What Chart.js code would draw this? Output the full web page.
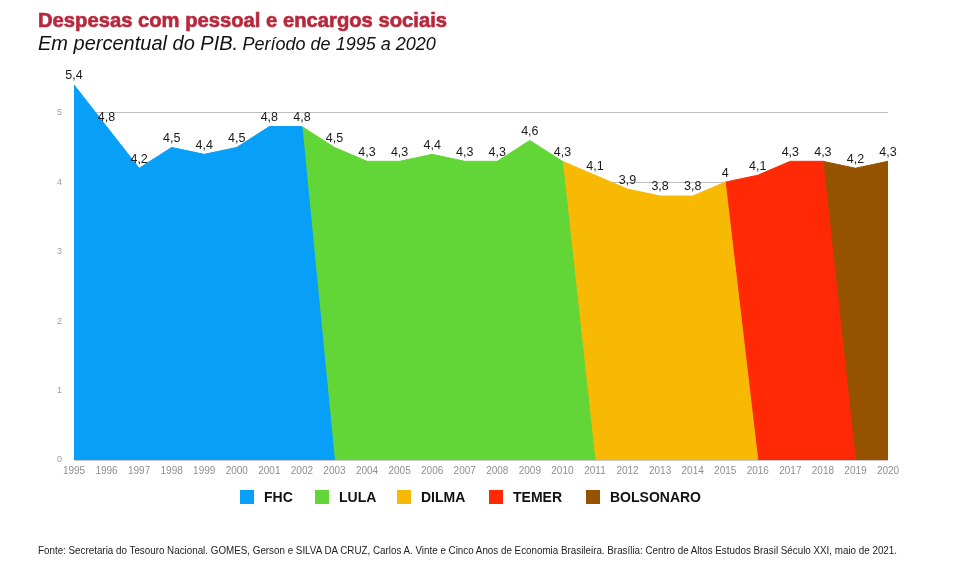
<!DOCTYPE html>
<html>
<head>
<meta charset="utf-8">
<script src="https://cdn.jsdelivr.net/npm/chart.js@4/dist/chart.umd.min.js"></script>
<style>
  html, body { margin:0; padding:0; background:#fff; }
  body { width:953px; height:570px; position:relative; overflow:hidden; font-family:"Liberation Sans", Arial, sans-serif; }
  #c { position:absolute; left:0; top:0; }
  .fit { position:absolute; white-space:nowrap; transform-origin:0 0; }
  #title { left:38px; top:9px; font-size:20px; font-weight:700; color:#b8283c; -webkit-text-stroke:0.6px #b8283c; }
  #sub { left:38px; top:32px; font-style:italic; color:#111; }
  #sub .a { font-size:20px; }
  #sub .b { font-size:18px; }
  #foot { left:38px; top:545px; font-size:10px; color:#222; font-family:"Liberation Sans Narrow","Liberation Sans",Arial,sans-serif; }
  .lg-box { position:absolute; top:490px; width:14px; height:14px; }
  .lg-txt { position:absolute; top:489px; font-size:14px; font-weight:700; color:#111; line-height:16px; }
</style>
</head>
<body>
<canvas id="c" width="953" height="570"></canvas>
<div id="title" class="fit" data-w="409">Despesas com pessoal e encargos sociais</div>
<div id="sub" class="fit"><span class="a">Em percentual do PIB.</span> <span class="b">Período de 1995 a 2020</span></div>
<div id="foot" class="fit" data-w="859">Fonte: Secretaria do Tesouro Nacional. GOMES, Gerson e SILVA DA CRUZ, Carlos A. Vinte e Cinco Anos de Economia Brasileira. Brasília: Centro de Altos Estudos Brasil Século XXI, maio de 2021.</div>
<div id="legend"></div>
<script>
// ---- data ----
const years = ['1995','1996','1997','1998','1999','2000','2001','2002','2003','2004','2005','2006','2007','2008','2009','2010','2011','2012','2013','2014','2015','2016','2017','2018','2019','2020'];
const values = [5.4,4.8,4.2,4.5,4.4,4.5,4.8,4.8,4.5,4.3,4.3,4.4,4.3,4.3,4.6,4.3,4.1,3.9,3.8,3.8,4.0,4.1,4.3,4.3,4.2,4.3];
const presidents = ['FHC','LULA','DILMA','TEMER','BOLSONARO'];
const termStart = [1995,2003,2011,2016,2019];
const termEnd = [2002,2010,2015,2018,2020];
const colors = ['#079ff7','#62d637','#f8b905','#ff2a05','#955300'];
const yTicks = [0,1,2,3,4,5];

// fit text widths
document.querySelectorAll('.fit[data-w]').forEach(el => {
  const w = el.getBoundingClientRect().width;
  el.style.transform = 'scaleX(' + (parseFloat(el.dataset.w) / w) + ')';
});

// legend
const lgBoxX = [240,315,397,489,586];
const lg = document.getElementById('legend');
presidents.forEach((p, k) => {
  const b = document.createElement('div');
  b.className = 'lg-box'; b.style.left = lgBoxX[k] + 'px'; b.style.background = colors[k];
  const t = document.createElement('div');
  t.className = 'lg-txt'; t.style.left = (lgBoxX[k] + 24) + 'px'; t.textContent = p;
  lg.appendChild(b); lg.appendChild(t);
});

// build series: each term includes the previous year's point and drops to 0 the year after
const datasets = presidents.map((p, k) => {
  const data = years.map((y, i) => {
    const yr = +y;
    const from = termStart[k] > +years[0] ? termStart[k] - 1 : termStart[k];
    if (yr >= from && yr <= termEnd[k]) return values[i];
    if (yr === termEnd[k] + 1) return 0;
    return null;
  });
  return {
    label: p, data, backgroundColor: colors[k], borderColor: colors[k],
    borderWidth: 1, fill: 'origin', pointRadius: 0, tension: 0, spanGaps: false
  };
});

const labelPlugin = {
  id: 'vlabels',
  afterDatasetsDraw(chart) {
    const ctx = chart.ctx, xs = chart.scales.x, ys = chart.scales.y;
    ctx.save();
    ctx.font = '12.5px "Liberation Sans", Arial, sans-serif';
    ctx.fillStyle = '#1a1a1a';
    ctx.textAlign = 'center';
    ctx.textBaseline = 'middle';
    values.forEach((v, i) => {
      const x = xs.getPixelForValue(i), y = ys.getPixelForValue(v);
      ctx.fillText(String(v).replace('.', ','), x, y - 9);
    });
    ctx.restore();
  }
};

new Chart(document.getElementById('c'), {
  type: 'line',
  data: { labels: years, datasets },
  options: {
    responsive: false,
    animation: false,
    devicePixelRatio: 1,
    layout: { padding: { left: 0, right: 65, top: 71, bottom: 0 } },
    plugins: { legend: { display: false }, tooltip: { enabled: false } },
    scales: {
      x: {
        type: 'category', offset: false,
        grid: { display: false, drawTicks: false },
        border: { display: false },
        ticks: { color: '#8f8f8f', font: { size: 10, family: '"Liberation Sans", Arial, sans-serif' }, padding: 5, maxRotation: 0, autoSkip: false },
        afterFit(s) { s.height = 110; }
      },
      y: {
        min: 0, max: 5.6,
        afterBuildTicks(s) { s.ticks = yTicks.map(v => ({ value: v })); },
        grid: {
          drawTicks: false,
          color: c => c.tick && c.tick.value === 0 ? '#1c1c28' : '#bdbdbd',
          lineWidth: c => c.tick && c.tick.value === 0 ? 1.3 : 1
        },
        border: { display: false },
        ticks: { color: '#a0a0a0', font: { size: 9, family: '"Liberation Sans", Arial, sans-serif' }, padding: 12, callback: v => String(v) },
        afterFit(s) { s.width = 74; }
      }
    }
  },
  plugins: [labelPlugin]
});
</script>
</body>
</html>
